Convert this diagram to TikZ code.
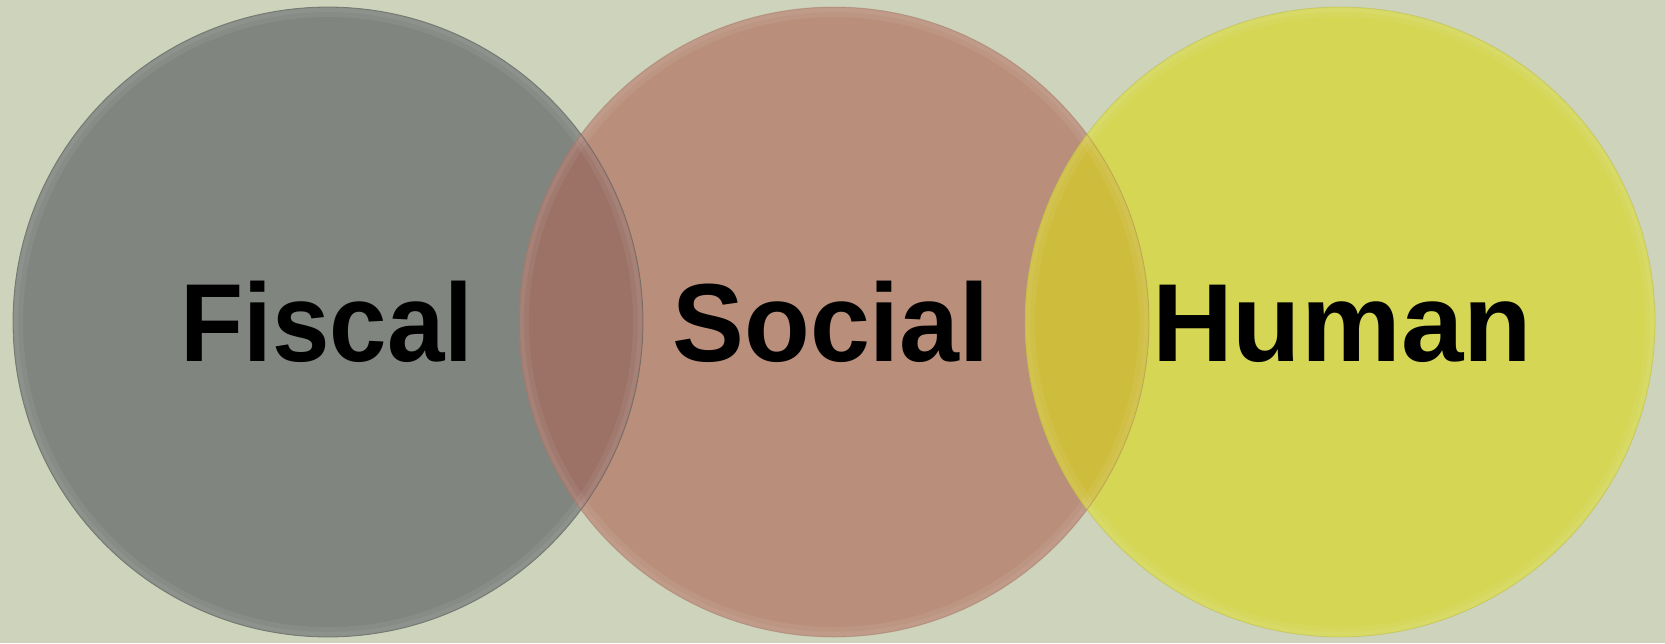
\documentclass[tikz,border=0pt]{standalone}
\usepackage{fontspec}
\setmainfont{Liberation Sans}
\definecolor{bgc}{RGB}{206,211,187}
\definecolor{fiscalc}{RGB}{128,133,127}
\definecolor{socialc}{RGB}{185,143,124}
\definecolor{humanc}{RGB}{212,214,84}
\definecolor{ovfs}{RGB}{156,114,102}
\definecolor{ovsh}{RGB}{206,189,60}
\tikzset{
  circ/.style={circle, minimum size=630pt, inner sep=0pt, outer sep=0pt},
  rim/.style={line width=0.8pt},
  lbl/.style={anchor=base, inner sep=0pt, font=\fontsize{111}{130}\selectfont\bfseries, text=black}
}
\begin{document}
\begin{tikzpicture}[x=1pt,y=-1pt]
\fill[bgc] (0,0) rectangle (1665,643);
\useasboundingbox (0,0) rectangle (1665,643);
\node[circ, fill=fiscalc] (fiscal) at (328,322) {};
\node[circ, fill=socialc] (social) at (834,322) {};
\node[circ, fill=humanc] (human) at (1340,322) {};
\begin{scope}
  \clip (328,322) circle (315pt);
  \fill[ovfs] (834,322) circle (315pt);
\end{scope}
\begin{scope}
  \clip (834,322) circle (315pt);
  \fill[ovsh] (1340,322) circle (315pt);
\end{scope}
% soft inner rim
\foreach \cx in {328, 834, 1340}{
  \begin{scope}
    \clip (\cx,322) circle (315pt);
    \draw[white, opacity=0.06, line width=10pt] (\cx,322) circle (310pt);
    \draw[white, opacity=0.06, line width=4pt] (\cx,322) circle (312pt);
  \end{scope}
}
\draw[rim, fiscalc!75!black, opacity=0.7] (fiscal) circle (315pt);
\draw[rim, socialc!85!black, opacity=0.4] (social) circle (315pt);
\draw[rim, humanc!85!black, opacity=0.4] (human) circle (315pt);
\node[lbl, xscale=0.93] (tf) at (327,361) {Fiscal};
\node[lbl, xscale=0.97] (ts) at (831,361) {Social};
\node[lbl, xscale=1.01] (th) at (1342,361) {Human};
\end{tikzpicture}
\end{document}
